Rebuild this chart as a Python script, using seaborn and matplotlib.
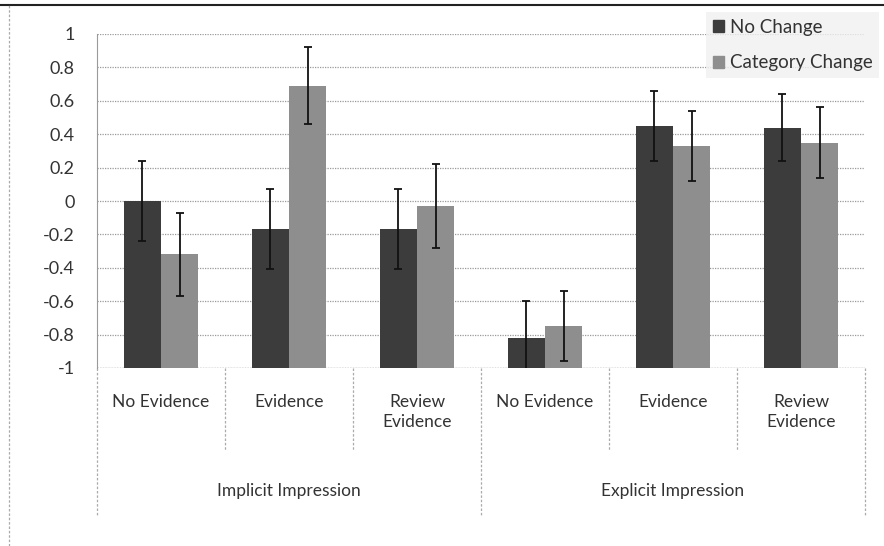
import numpy as np
import pandas as pd
import seaborn as sns
import matplotlib.pyplot as plt
from matplotlib.lines import Line2D
import matplotlib.transforms as mtransforms

# data
conditions = ['No Evidence', 'Evidence', 'Review\nEvidence',
              'No Evidence ', 'Evidence ', 'Review\nEvidence ']
groups = ['Implicit Impression', 'Explicit Impression']
no_change = [0.00, -0.17, -0.17, -0.82, 0.45, 0.44]
no_change_err = [0.24, 0.24, 0.24, 0.22, 0.21, 0.20]
cat_change = [-0.32, 0.69, -0.03, -0.75, 0.33, 0.35]
cat_change_err = [0.25, 0.23, 0.25, 0.21, 0.21, 0.21]
yticks = [1, 0.8, 0.6, 0.4, 0.2, 0, -0.2, -0.4, -0.6, -0.8, -1]
base = -1  # horizontal axis crosses at -1, bars grow from there

df = pd.DataFrame({
    'cond': conditions * 2,
    'val': no_change + cat_change,
    'err': no_change_err + cat_change_err,
    'series': ['No Change'] * 6 + ['Category Change'] * 6,
})
df['height'] = df['val'] - base

sns.set_style('white')
plt.rcParams['font.family'] = ['Lato', 'DejaVu Sans']
txtcol = '#333333'

fig = plt.figure(figsize=(8.84, 5.46), dpi=100)
ax = fig.add_axes([97 / 884, 1 - 368 / 546, (865 - 97) / 884, (368 - 34) / 546])

sns.barplot(data=df, x='cond', y='height', hue='series', order=conditions,
            hue_order=['No Change', 'Category Change'],
            palette=['#3c3c3c', '#8e8e8e'], width=0.58, gap=0,
            errorbar=None, ax=ax, legend=False, linewidth=0, bottom=base)

# error bars centred on the bars seaborn drew
for cont, errs in zip(ax.containers, [no_change_err, cat_change_err]):
    xs = [p.get_x() + p.get_width() / 2 for p in cont.patches]
    ys = [p.get_y() + p.get_height() for p in cont.patches]
    ax.errorbar(xs, ys, yerr=errs, fmt='none', ecolor='#111111',
                elinewidth=1.3, capsize=3, capthick=1.3, zorder=5)

ax.set_ylim(-1, 1)
ax.set_xlim(-0.5, 5.5)
ax.set_yticks(yticks)
ax.set_yticklabels([f'{t:g}' for t in yticks], fontsize=13, color=txtcol)
ax.tick_params(axis='y', length=5, color='#999999', pad=11)
ax.set_xticks([])
ax.set_xlabel('')
ax.set_ylabel('')
ax.grid(axis='y', color='#9a9a9a', linestyle=(0, (1, 1)), linewidth=0.9)
ax.set_axisbelow(True)
for s in ['top', 'right', 'bottom']:
    ax.spines[s].set_visible(False)
ax.spines['left'].set_color('#9a9a9a')
ax.axhline(-1, color='#9a9a9a', lw=1, linestyle=(0, (1, 1)), zorder=0)

# two-level category axis below the plot
tr = mtransforms.blended_transform_factory(ax.transData, ax.transAxes)
bot_inner = -(450 - 368) / 334
bot_outer = -(515 - 368) / 334
for x in [0.5, 1.5, 3.5, 4.5]:
    ax.add_line(Line2D([x, x], [0, bot_inner], transform=tr, color='#aaaaaa',
                       lw=0.9, linestyle=(0, (2, 1.5)), clip_on=False))
for x in [-0.5, 2.5, 5.5]:
    ax.add_line(Line2D([x, x], [0, bot_outer], transform=tr, color='#aaaaaa',
                       lw=0.9, linestyle=(0, (2, 1.5)), clip_on=False))
for i, c in enumerate(conditions):
    ax.text(i, -(394 - 368) / 334, c.strip(), transform=tr, ha='center', va='top',
            fontsize=12.5, color=txtcol, linespacing=1.3)
for i, g in enumerate(groups):
    ax.text(1 + 3 * i, -(491 - 368) / 334, g, transform=tr, ha='center',
            va='center', fontsize=12.5, color=txtcol)

# legend
handles = [plt.Rectangle((0, 0), 1, 1, color='#3c3c3c'),
           plt.Rectangle((0, 0), 1, 1, color='#8e8e8e')]
leg = fig.legend(handles, ['No Change', 'Category Change'], loc='upper right',
                 bbox_to_anchor=(1.005, 0.995), frameon=True, fontsize=13.5,
                 handlelength=0.6, handleheight=0.6, handletextpad=0.3,
                 labelspacing=1.0, borderpad=0.35, fancybox=False)
leg.get_frame().set_facecolor('#f0f0f0')
leg.get_frame().set_edgecolor('none')
for t in leg.get_texts():
    t.set_color(txtcol)

# outer frame of the picture
fig.add_artist(Line2D([0, 1], [1 - 5 / 546] * 2, transform=fig.transFigure,
                      color='#222222', lw=1.5))
fig.add_artist(Line2D([9 / 884] * 2, [0, 1 - 5 / 546], transform=fig.transFigure,
                      color='#aaaaaa', lw=0.9, linestyle=(0, (2, 1.5))))

fig.savefig('out.png', dpi=100)
